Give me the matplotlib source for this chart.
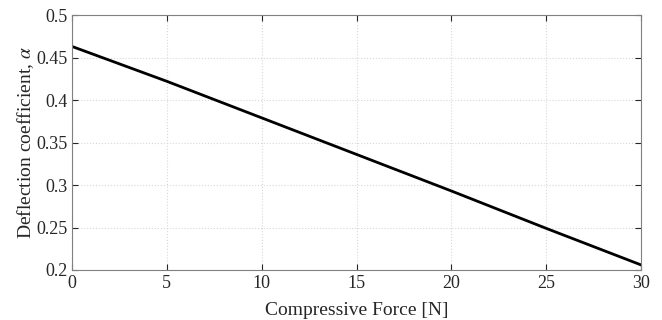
import numpy as np
import matplotlib.pyplot as plt

#--------------------------------------------------------------------------------------------------------------------------------
#Datos
fuerza=[0, 5, 10, 15, 20, 25, 30]
alfa=[0.463, 0.422, 0.379, 0.336, 0.293, 0.249, 0.206]
xticks=[0, 5, 10, 15, 20, 25, 30]
yticks=[0.2, 0.25, 0.3, 0.35, 0.4, 0.45, 0.5]

#--------------------------------------------------------------------------------------------------------------------------------
plt.rcParams['font.family']=['Liberation Serif', 'DejaVu Serif']
plt.rcParams['mathtext.fontset']='stix'

fig=plt.figure(figsize=(6.62, 3.20), dpi=100)
ax=fig.add_axes([72/662, 50/320, 569/662, 255/320])

ax.plot(fuerza, alfa, color='black', linewidth=2)

ax.set_xlim(0, 30)
ax.set_ylim(0.2, 0.5)
ax.set_xticks(xticks)
ax.set_yticks(yticks)
ax.set_xticklabels([str(v) for v in xticks])
ax.set_yticklabels(['0.2', '0.25', '0.3', '0.35', '0.4', '0.45', '0.5'])
ax.grid(True, linestyle=':', color='#d8d8d8', linewidth=0.8)
ax.tick_params(direction='in', top=True, right=True, labelsize=13, colors='#262626', length=4)
for s in ax.spines.values():
    s.set_color('#808080')
    s.set_linewidth(0.8)

ax.set_xlabel('Compressive Force [N]', fontsize=14, color='#262626', labelpad=7)
ax.set_ylabel(r'Deflection coefficient, $\alpha$', fontsize=14, color='#262626', labelpad=0)

fig.savefig('out.png', dpi=100)
